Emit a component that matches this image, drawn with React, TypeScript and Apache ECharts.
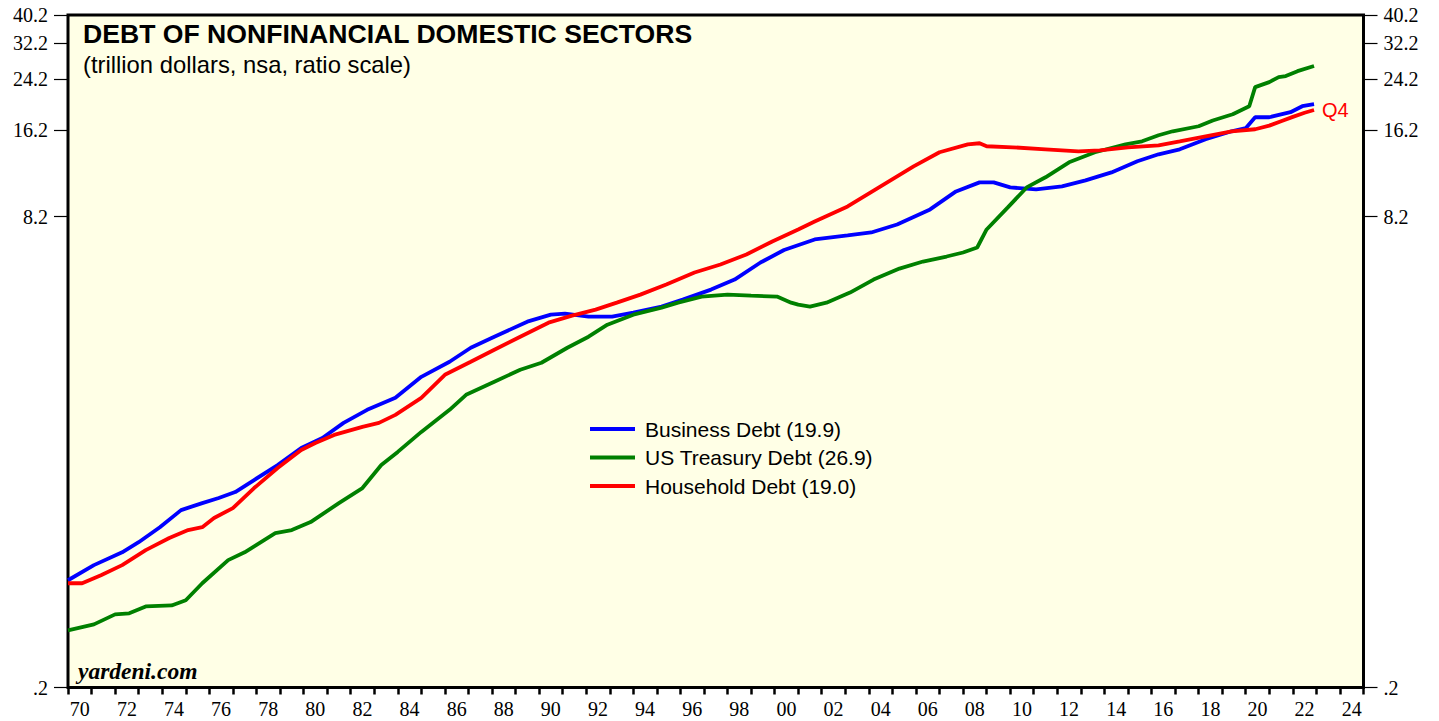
import React, { useEffect, useRef } from 'react';
import * as echarts from 'echarts';

const seriesNames = ['Business Debt (19.9)', 'US Treasury Debt (26.9)', 'Household Debt (19.0)'];
const seriesColors = ['#0000FF', '#008000', '#FF0000'];

// [year, trillion dollars]
const businessDebt: [number, number][] = [
  [1970.0, 0.466], [1971.1, 0.525], [1972.3, 0.581], [1973.0, 0.629], [1973.9, 0.708],
  [1974.8, 0.81], [1975.7, 0.856], [1976.4, 0.891], [1977.1, 0.934], [1977.9, 1.027],
  [1978.9, 1.156], [1979.9, 1.323], [1980.8, 1.431], [1981.7, 1.612], [1982.7, 1.786],
  [1983.9, 1.964], [1985.0, 2.318], [1986.2, 2.61], [1987.1, 2.915], [1988.1, 3.18],
  [1989.5, 3.581], [1990.5, 3.784], [1991.1, 3.814], [1992.1, 3.725], [1993.1, 3.725],
  [1994.0, 3.844], [1995.2, 4.032], [1996.1, 4.261], [1997.3, 4.611], [1998.3, 4.99],
  [1999.4, 5.708], [2000.4, 6.3], [2001.7, 6.846], [2003.1, 7.066], [2004.1, 7.235],
  [2005.2, 7.707], [2006.6, 8.677], [2007.7, 10.0], [2008.7, 10.74], [2009.3, 10.74],
  [2010.0, 10.32], [2011.1, 10.16], [2012.2, 10.41], [2013.2, 10.91], [2014.3, 11.62],
  [2015.4, 12.68], [2016.3, 13.4], [2017.2, 13.94], [2018.3, 15.09], [2019.4, 16.07],
  [2020.0, 16.46], [2020.4, 17.95], [2021.0, 17.95], [2021.9, 18.68], [2022.4, 19.58],
  [2022.9, 19.9],
];

const treasuryDebt: [number, number][] = [
  [1970.0, 0.314], [1971.1, 0.329], [1972.0, 0.356], [1972.6, 0.359], [1973.3, 0.379],
  [1974.4, 0.382], [1975.0, 0.398], [1975.7, 0.455], [1976.8, 0.546], [1977.5, 0.581],
  [1978.8, 0.676], [1979.5, 0.692], [1980.3, 0.737], [1981.5, 0.856], [1982.5, 0.964],
  [1983.3, 1.156], [1984.0, 1.282], [1985.0, 1.501], [1986.2, 1.786], [1986.9, 2.011],
  [1988.1, 2.229], [1989.2, 2.45], [1990.1, 2.59], [1991.2, 2.915], [1992.1, 3.18],
  [1992.9, 3.497], [1994.0, 3.784], [1995.2, 4.0], [1995.9, 4.16], [1996.9, 4.363],
  [1998.0, 4.432], [1999.0, 4.397], [2000.1, 4.363], [2000.7, 4.16], [2001.0, 4.096],
  [2001.5, 4.032], [2002.2, 4.16], [2003.2, 4.503], [2004.2, 4.99], [2005.3, 5.443],
  [2006.3, 5.753], [2007.3, 5.985], [2008.0, 6.177], [2008.6, 6.426], [2009.0, 7.408],
  [2009.9, 8.815], [2010.7, 10.32], [2011.5, 11.18], [2012.5, 12.58], [2013.6, 13.62],
  [2014.9, 14.5], [2015.6, 14.85], [2016.3, 15.57], [2016.9, 16.07], [2018.0, 16.72],
  [2018.6, 17.5], [2019.45, 18.38], [2020.15, 19.58], [2020.4, 22.76], [2021.0, 23.68],
  [2021.4, 24.63], [2021.7, 24.83], [2022.2, 25.82], [2022.9, 26.9],
];

const householdDebt: [number, number][] = [
  [1970.0, 0.455], [1970.6, 0.455], [1971.4, 0.485], [1972.3, 0.525], [1973.3, 0.591],
  [1974.3, 0.65], [1975.1, 0.692], [1975.7, 0.708], [1976.2, 0.761], [1977.0, 0.823],
  [1977.9, 0.964], [1978.9, 1.129], [1979.9, 1.302], [1980.5, 1.376], [1981.3, 1.466],
  [1982.5, 1.562], [1983.2, 1.612], [1983.9, 1.717], [1985.0, 1.964], [1986.0, 2.355],
  [1987.1, 2.61], [1988.1, 2.87], [1989.2, 3.18], [1990.4, 3.552], [1991.4, 3.754],
  [1992.4, 3.936], [1993.3, 4.16], [1994.3, 4.432], [1995.4, 4.797], [1996.6, 5.274],
  [1997.7, 5.618], [1998.8, 6.08], [1999.9, 6.738], [2001.0, 7.408], [2001.7, 7.892],
  [2003.1, 8.886], [2004.5, 10.41], [2005.9, 12.19], [2007.0, 13.62], [2008.2, 14.5],
  [2008.7, 14.62], [2009.0, 14.28], [2010.1, 14.16], [2011.5, 13.94], [2012.9, 13.72],
  [2013.8, 13.83], [2015.0, 14.16], [2016.3, 14.39], [2017.2, 14.85], [2018.3, 15.45],
  [2019.4, 16.07], [2020.4, 16.33], [2021.0, 16.8], [2021.5, 17.4], [2022.0, 18.0],
  [2022.5, 18.6], [2022.9, 19.0],
];

const yTickValues = [0.2, 8.2, 16.2, 24.2, 32.2, 40.2];
const xLabelYears = [
  1970, 1972, 1974, 1976, 1978, 1980, 1982, 1984, 1986, 1988, 1990, 1992, 1994, 1996,
  1998, 2000, 2002, 2004, 2006, 2008, 2010, 2012, 2014, 2016, 2018, 2020, 2022, 2024,
];
const xMin = 1970;
const xMax = 2025;

const titleText = 'DEBT OF NONFINANCIAL DOMESTIC SECTORS';
const subtitleText = '(trillion dollars, nsa, ratio scale)';
const sourceText = 'yardeni.com';
const endLabelText = 'Q4';

const SERIF = '"Liberation Serif", "Times New Roman", serif';
const SANS = '"Liberation Sans", Arial, sans-serif';

const fmtY = (v: number) => String(v).replace(/^0\./, '.');
const fmtX = (v: number) => String(Math.floor(v) % 100).padStart(2, '0');

export default function App() {
  const ref = useRef<HTMLDivElement>(null);
  useEffect(() => {
    if (!ref.current) return;
    const chart = echarts.init(ref.current, null, { renderer: 'svg' });
    const xTicks: number[] = [];
    for (let y = xMin; y <= xMax; y++) xTicks.push(y);

    const yAxisBase = (position: 'left' | 'right') => ({
      type: 'log',
      logBase: 10,
      position,
      min: 0.2,
      max: 40.2,
      axisLine: { show: false },
      axisTick: {
        show: true,
        inside: false,
        length: 14,
        customValues: yTickValues,
        lineStyle: { color: '#000', width: 1.2 },
      },
      axisLabel: {
        show: true,
        customValues: yTickValues,
        formatter: fmtY,
        color: '#000',
        fontFamily: SERIF,
        fontSize: 20,
        margin: 20,
      },
      splitLine: { show: false },
      minorTick: { show: false },
      minorSplitLine: { show: false },
    });

    chart.setOption({
      animation: false,
      backgroundColor: '#FFFFFF',
      grid: {
        left: 68,
        right: 75.5,
        top: 15,
        bottom: 33.5,
        show: true,
        backgroundColor: '#FFFFE6',
        borderColor: '#000',
        borderWidth: 3,
        containLabel: false,
        outerBoundsMode: 'none',
      },
      xAxis: {
        type: 'value',
        min: xMin,
        max: xMax,
        axisLine: { show: false },
        axisTick: {
          show: true,
          length: 7,
          customValues: xTicks,
          lineStyle: { color: '#000', width: 2.5 },
        },
        axisLabel: {
          show: true,
          customValues: xLabelYears.map((y) => y + 0.5),
          formatter: fmtX,
          color: '#000',
          fontFamily: SERIF,
          fontSize: 20,
          margin: 11,
        },
        splitLine: { show: false },
      },
      yAxis: [yAxisBase('left'), yAxisBase('right')],
      legend: {
        show: true,
        orient: 'vertical',
        left: 585,
        top: 412,
        icon: 'rect',
        itemWidth: 45,
        itemHeight: 4,
        itemGap: 4.5,
        selectedMode: false,
        data: seriesNames,
        textStyle: {
          fontFamily: SANS,
          fontSize: 21,
          lineHeight: 24,
          color: '#000',
          padding: [0, 0, 0, 5],
        },
      },
      graphic: [
        {
          type: 'text',
          x: 83,
          y: 34,
          style: {
            text: titleText,
            font: `bold 26.6px ${SANS}`,
            fill: '#000',
            textAlign: 'left',
            textVerticalAlign: 'middle',
          },
        },
        {
          type: 'text',
          x: 83,
          y: 64,
          style: {
            text: subtitleText,
            font: `23.8px ${SANS}`,
            fill: '#000',
            textAlign: 'left',
            textVerticalAlign: 'middle',
          },
        },
        {
          type: 'text',
          x: 78,
          y: 671,
          style: {
            text: sourceText,
            font: `italic bold 23.5px ${SERIF}`,
            fill: '#000',
            textAlign: 'left',
            textVerticalAlign: 'middle',
          },
        },
      ],
      series: [
        { name: seriesNames[0], data: businessDebt, color: seriesColors[0] },
        { name: seriesNames[1], data: treasuryDebt, color: seriesColors[1] },
        {
          name: seriesNames[2],
          data: householdDebt,
          color: seriesColors[2],
          endLabel: {
            show: true,
            formatter: endLabelText,
            color: seriesColors[2],
            fontFamily: SANS,
            fontSize: 20,
            distance: 8,
          },
        },
      ].map((s) => ({
        type: 'line',
        xAxisIndex: 0,
        yAxisIndex: 0,
        showSymbol: false,
        symbol: 'none',
        emphasis: { disabled: true },
        lineStyle: { color: s.color, width: 3.8 },
        itemStyle: { color: s.color },
        ...s,
      })),
    });
    return () => chart.dispose();
  }, []);
  return (
    <div
      ref={ref}
      style={{ position: 'fixed', left: 0, top: 0, width: 1439, height: 721, background: '#fff' }}
    />
  );
}
